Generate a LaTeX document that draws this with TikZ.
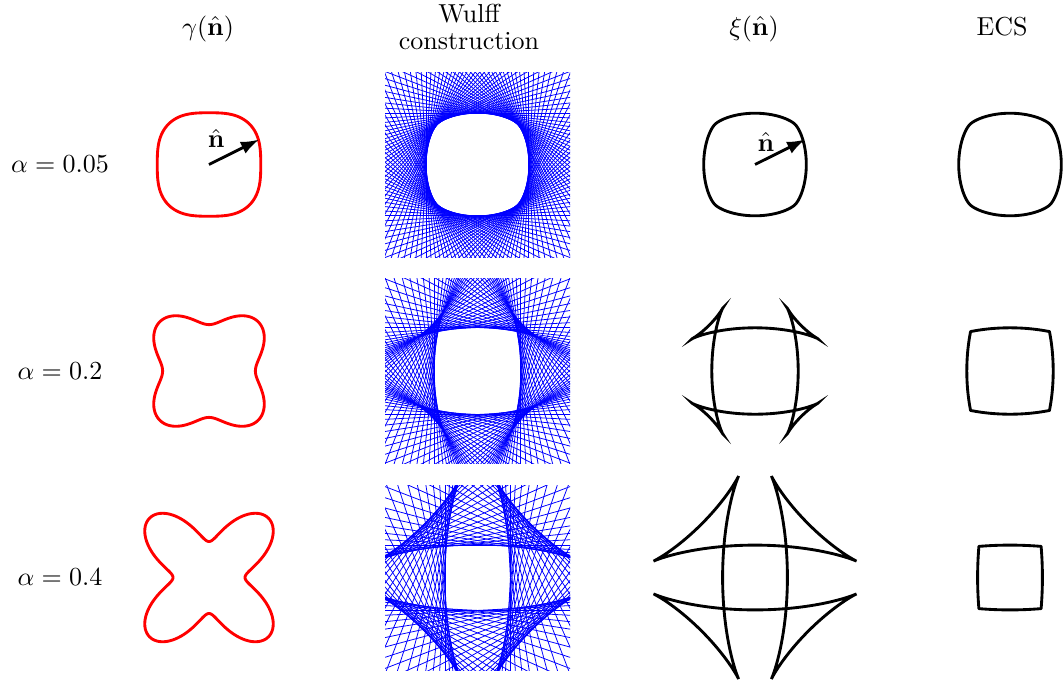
\documentclass[tikz,border=0pt]{standalone}
\usepackage{amsmath}
\usetikzlibrary{arrows.meta}

\begin{document}
\begin{tikzpicture}[x=0.3846pt,y=-0.3846pt,
  declare function={gam(\x,\k)=1-\k*cos(4*\x); dgam(\x,\k)=4*\k*sin(4*\x);
    xix(\x,\k)=gam(\x,\k)*cos(\x)-dgam(\x,\k)*sin(\x);
    xiy(\x,\k)=gam(\x,\k)*sin(\x)+dgam(\x,\k)*cos(\x);},
  header/.style={anchor=base},
  gamcurve/.style={red,line width=1.1pt},
  xicurve/.style={black,line width=1.1pt},
  ecscurve/.style={xicurve,line join=round},
  wulffline/.style={blue,line width=0.3pt},
  nvec/.style={-{Latex[length=7pt,width=5pt]},line width=1.1pt}]
  \useasboundingbox (0,0) rectangle (1063,686);
  \node[header] (hgam) at (208,35) {$\gamma(\hat{\mathbf{n}})$};
  \node[align=center] (hwulff) at (469,27) {Wulff\\[-1.5pt]construction};
  \node[header] (hxi) at (754,35) {$\xi(\hat{\mathbf{n}})$};
  \node[header] (hecs) at (1002,35) {ECS};
  \foreach \al/\y/\rs/\tc [count=\i] in {0.05/164.5/54.5/45, 0.2/371/58/11.35, 0.4/577.5/60/4.75}{
    \node (alpha\i) at (60,\y) {$\alpha=\al$};
    \begin{scope}[shift={(209,\y)},xscale=\rs,yscale=-\rs]
      \draw[gamcurve] plot[domain=0:360,samples=241,variable=\t]
        ({gam(\t,\al)*cos(\t)},{gam(\t,\al)*sin(\t)}) -- cycle;
    \end{scope}
    \begin{scope}[shift={(477.5,\y)},xscale=54,yscale=-54]
      \clip (-1.713,-1.713) rectangle (1.713,1.713);
      \foreach \t in {0,3,...,357}{
        \pgfmathsetmacro\g{gam(\t,\al)}
        \draw[wulffline] ({\g*cos(\t)+4*sin(\t)},{\g*sin(\t)-4*cos(\t)})
          -- ({\g*cos(\t)-4*sin(\t)},{\g*sin(\t)+4*cos(\t)});
      }
    \end{scope}
    \begin{scope}[shift={(755,\y)},xscale=54,yscale=-54]
      \draw[xicurve] plot[domain=0:360,samples=721,variable=\t]
        ({xix(\t,\al)},{xiy(\t,\al)}) -- cycle;
    \end{scope}
    \begin{scope}[shift={(1010,\y)},xscale=54,yscale=-54]
      \draw[ecscurve] plot[domain=-\tc:\tc,samples=41,variable=\t] ({xix(\t,\al)},{xiy(\t,\al)})
        -- plot[domain=-\tc:\tc,samples=41,variable=\t] ({-xiy(\t,\al)},{xix(\t,\al)})
        -- plot[domain=-\tc:\tc,samples=41,variable=\t] ({-xix(\t,\al)},{-xiy(\t,\al)})
        -- plot[domain=-\tc:\tc,samples=41,variable=\t] ({xiy(\t,\al)},{-xix(\t,\al)}) -- cycle;
    \end{scope}
  }
  \begin{scope}[shift={(209,164.5)},xscale=54.5,yscale=-54.5]
    \coordinate (o1) at (0,0);
    \coordinate (t1) at (26.5:1.03);
    \draw[nvec] (o1) -- (t1);
    \node (n1) at (0.13,0.48) {$\hat{\mathbf{n}}$};
  \end{scope}
  \begin{scope}[shift={(755,164.5)},xscale=54,yscale=-54]
    \coordinate (o2) at (0,0);
    \coordinate (t2) at (26.5:1.04);
    \draw[nvec] (o2) -- (t2);
    \node (n2) at (0.2,0.42) {$\hat{\mathbf{n}}$};
  \end{scope}
\end{tikzpicture}
\end{document}
